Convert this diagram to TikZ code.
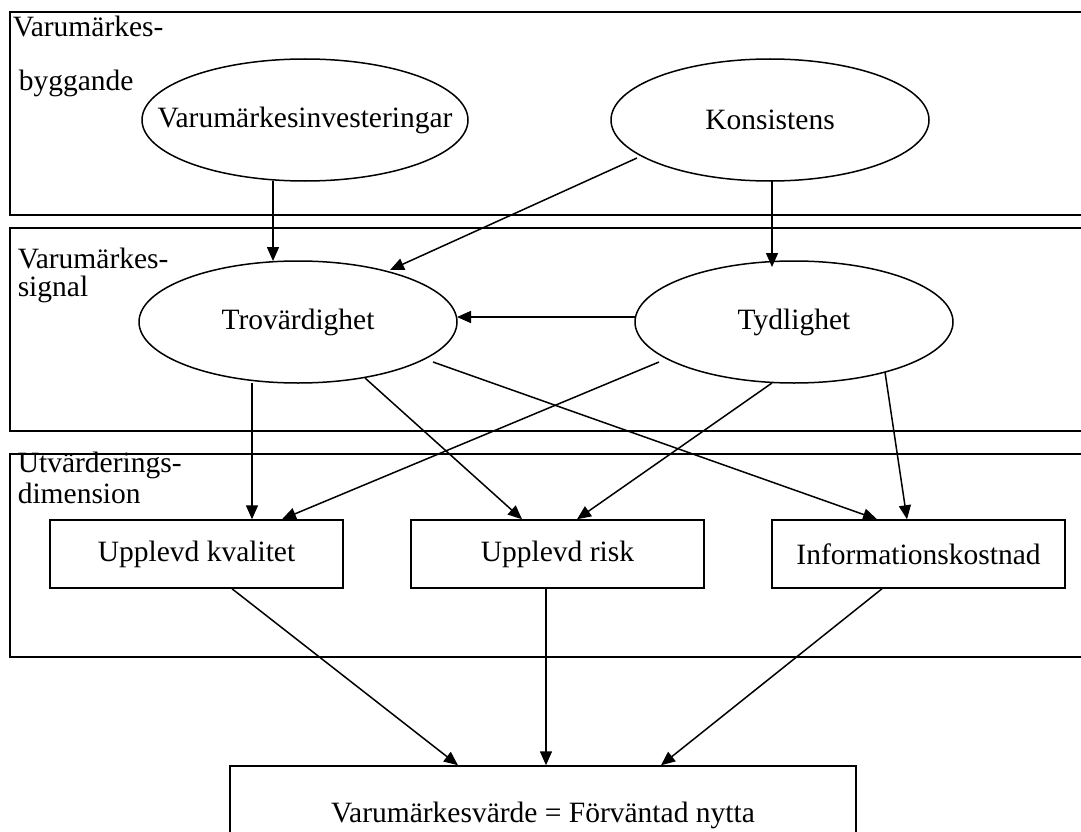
\documentclass[tikz,border=0pt]{standalone}
\usepackage{fontspec}
\setmainfont{Liberation Serif}
\usetikzlibrary{shapes.geometric,arrows.meta,calc}
\begin{document}
\begin{tikzpicture}[x=1pt,y=-1pt,
  line width=1.5pt,
  band/.style={draw,line width=1.5pt},
  oval/.style={draw,ellipse,inner sep=0pt,minimum width=318pt,minimum height=122pt},
  txt/.style={inner sep=0pt,font=\fontsize{29.5}{33}\selectfont},
  box/.style={draw,rectangle,inner sep=0pt,minimum width=293pt,minimum height=68pt,font=\fontsize{29.5}{33}\selectfont},
  lbl/.style={anchor=base west,inner sep=0pt,font=\fontsize{29.5}{33}\selectfont},
  arr/.style={-{Triangle[length=14pt,width=12pt]},line width=1.5pt}]
\useasboundingbox (0,0) rectangle (1081,832);
\clip (0,0) rectangle (1081,832);
% bands
\draw[band] (1100,12) -- (10,12) -- (10,215) -- (1100,215);
\draw[band] (1100,228) -- (10,228) -- (10,431) -- (1100,431);
\draw[band] (1100,454) -- (10,454) -- (10,657) -- (1100,657);
% band labels
\node[lbl] (l1a) at (12,37) {Varumärkes-};
\node[lbl] (l1b) at (18,91) {byggande};
\node[lbl] (l2a) at (17,268) {Varumärkes-};
\node[lbl] (l2b) at (17,296) {signal};
\node[lbl] (l3a) at (17,472) {Utvärderings-};
\node[lbl] (l3b) at (17,503) {dimension};
% ellipses
\node[oval,minimum width=326pt] (VI) at (305,120) {};
\node[txt] (VIt) at (VI.center) {Varumärkesinvesteringar};
\node[oval] (K) at (770,120) {};
\node[txt] (Kt) at (K.center) {Konsistens};
\node[oval] (T) at (298,322) {};
\node[txt] (Tt) at (T.center) {Trovärdighet};
\node[oval] (Ty) at (794,322) {};
\node[txt] (Tyt) at (Ty.center) {Tydlighet};
% boxes
\node[box] (kval) at (196.5,554) {Upplevd kvalitet};
\node[box] (risk) at (557.5,554) {Upplevd risk};
\node[box] (info) at (918.5,554) {Informationskostnad};
\node[draw,rectangle,inner sep=0pt,minimum width=626pt,minimum height=98pt,font=\fontsize{29.5}{33}\selectfont] (bot) at (543,815) {Varumärkesvärde = Förväntad nytta};
% connectors
\draw[arr] ($(VI.center)+(-32,61)$) -- ($(T.center)+(-25,-61)$);
\draw[arr] ($(K.center)+(-133,38)$) -- ($(T.center)+(92,-52)$);
\draw[arr] ($(K.center)+(2,61)$) -- ($(Ty.center)+(-22,-55)$);
\draw[arr] ($(Ty.center)+(-158,-5)$) -- ($(T.center)+(159,-5)$);
\draw[arr] ($(T.center)+(-46,61)$) -- ($(kval.north)+(55.5,0)$);
\draw[arr] ($(T.center)+(67,56)$) -- ($(risk.north)+(-35.5,0)$);
\draw[arr] ($(T.center)+(135,40)$) -- ($(info.north)+(-41.5,0)$);
\draw[arr] ($(Ty.center)+(-135,40)$) -- ($(kval.north)+(85.5,0)$);
\draw[arr] ($(Ty.center)+(-22,61)$) -- ($(risk.north)+(19.5,0)$);
\draw[arr] ($(Ty.center)+(91,50)$) -- ($(info.north)+(-11.5,0)$);
\draw[arr] ($(kval.south)+(35.5,0)$) -- ($(bot.north)+(-85,0)$);
\draw[arr] ($(risk.south)+(-11.5,0)$) -- ($(bot.north)+(3,0)$);
\draw[arr] ($(info.south)+(-36.5,0)$) -- ($(bot.north)+(118,0)$);
\end{tikzpicture}
\end{document}
